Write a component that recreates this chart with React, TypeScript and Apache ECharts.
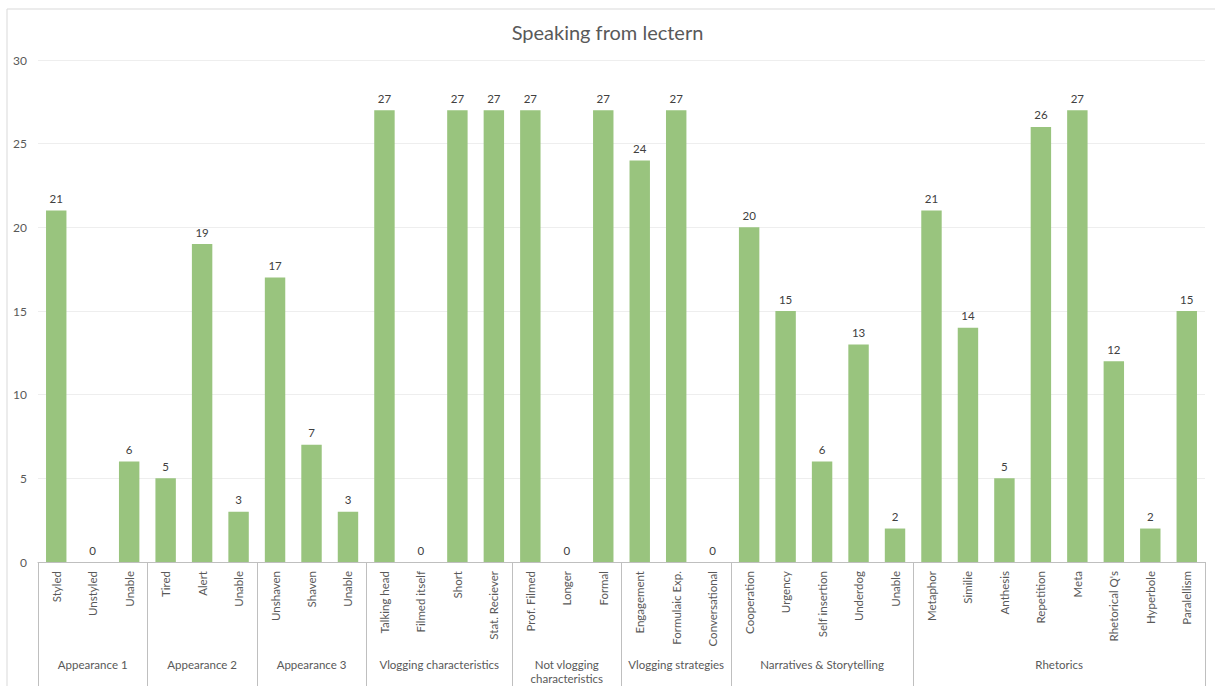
import React, { useEffect, useRef } from "react";
import * as echarts from "echarts";

// Individual codes along the x axis, in drawing order
const categories = [
  "Styled", "Unstyled", "Unable",
  "Tired", "Alert", "Unable",
  "Unshaven", "Shaven", "Unable",
  "Talking head", "Filmed itself", "Short", "Stat. Reciever",
  "Prof. Filmed", "Longer", "Formal",
  "Engagement", "Formulaic Exp.", "Conversational",
  "Cooperation", "Urgency", "Self insertion", "Underdog", "Unable",
  "Metaphor", "Similie", "Anthesis", "Repetition", "Meta", "Rhetorical Q's", "Hyperbole", "Paralellism",
];

// Counts per code
const counts = [
  21, 0, 6,
  5, 19, 3,
  17, 7, 3,
  27, 0, 27, 27,
  27, 0, 27,
  24, 27, 0,
  20, 15, 6, 13, 2,
  21, 14, 5, 26, 27, 12, 2, 15,
];

// Group headings and how many codes each spans
const groupNames = [
  "Appearance 1",
  "Appearance 2",
  "Appearance 3",
  "Vlogging characteristics",
  "Not vlogging\ncharacteristics",
  "Vlogging strategies",
  "Narratives & Storytelling",
  "Rhetorics",
];
const groupSizes = [3, 3, 3, 4, 3, 3, 5, 8];

const yTicks = { min: 0, max: 30, interval: 5 };

const FONT = "Lato, 'Open Sans', sans-serif";
const TEXT = "#595959";
const GRAY = "#bfbfbf";

export default function App() {
  const ref = useRef<HTMLDivElement>(null);

  useEffect(() => {
    if (!ref.current) return;
    const chart = echarts.init(ref.current, undefined, { renderer: "svg" });

    // boundaries between groups and the centre of each group, in category units
    const bounds: number[] = [0];
    groupSizes.forEach((s) => bounds.push(bounds[bounds.length - 1] + s));
    const mids = groupSizes.map((s, i) => bounds[i] + s / 2);
    const midName = (v: number) => {
      const i = mids.findIndex((m) => Math.abs(m - v) < 1e-6);
      return i >= 0 ? groupNames[i] : "";
    };

    chart.setOption({
      animation: false,
      textStyle: { fontFamily: FONT },
      title: {
        text: "Speaking from lectern",
        left: "center",
        top: 17,
        textStyle: { fontFamily: FONT, fontSize: 20, fontWeight: "normal", color: TEXT },
      },
      graphic: [
        {
          type: "rect",
          shape: { x: 7, y: 9, width: 1230, height: 700 },
          style: { fill: "none", stroke: "#d9d9d9", lineWidth: 1 },
          silent: true,
          z: -10,
        },
      ],
      grid: { left: 38, right: 10, top: 60, bottom: 124 },
      xAxis: [
        {
          type: "category",
          data: categories,
          position: "bottom",
          axisLine: { show: true, lineStyle: { color: GRAY } },
          axisTick: { show: false },
          axisLabel: {
            rotate: 90,
            interval: 0,
            margin: 9,
            fontSize: 11.5,
            color: TEXT,
            fontFamily: FONT,
          },
        },
        {
          type: "value",
          min: 0,
          max: bounds[bounds.length - 1],
          position: "bottom",
          axisLine: { show: false },
          splitLine: { show: false },
          axisTick: {
            show: true,
            customValues: bounds,
            length: 124,
            lineStyle: { color: GRAY },
          },
          axisLabel: {
            show: true,
            customValues: mids,
            formatter: (v: number) => midName(v),
            margin: 95,
            fontSize: 11.5,
            lineHeight: 14,
            color: TEXT,
            fontFamily: FONT,
            align: "center",
            verticalAlign: "top",
          },
        },
      ],
      yAxis: {
        type: "value",
        min: yTicks.min,
        max: yTicks.max,
        interval: yTicks.interval,
        axisLine: { show: false },
        axisTick: { show: false },
        splitLine: { lineStyle: { color: "#eeeeee" } },
        axisLabel: { fontSize: 12, color: TEXT, margin: 11, fontFamily: FONT },
      },
      series: [
        {
          type: "bar",
          xAxisIndex: 0,
          data: counts,
          barCategoryGap: "44%",
          itemStyle: { color: "#99c47e" },
          label: {
            show: true,
            position: "top",
            distance: 6,
            fontSize: 11.5,
            color: "#404040",
            fontFamily: FONT,
          },
        },
      ],
    });

    return () => chart.dispose();
  }, []);

  return (
    <div
      ref={ref}
      style={{ position: "absolute", left: 0, top: 0, width: 1215, height: 686, background: "#fff" }}
    />
  );
}
